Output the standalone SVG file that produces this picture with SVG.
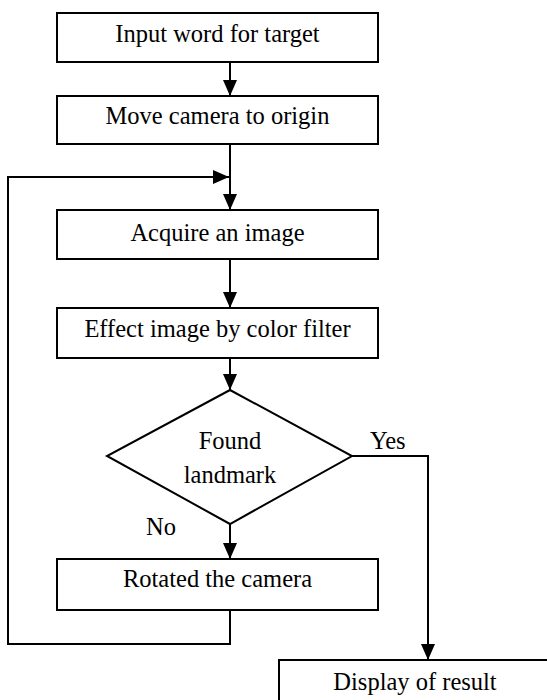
<svg xmlns="http://www.w3.org/2000/svg" width="547" height="700" viewBox="0 0 547 700">
<style>
.box{fill:#fff;stroke:#000;stroke-width:2}
.t{font-family:"Liberation Serif","Times New Roman",serif;font-size:24.5px;fill:#000}
.c{text-anchor:middle}
.ln{fill:none;stroke:#000;stroke-width:2}
</style>
<defs>
<marker id="ah" viewBox="0 0 16 14" refX="16" refY="7" markerWidth="16" markerHeight="14" markerUnits="userSpaceOnUse" orient="auto">
<path d="M0,0 L16,7 L0,14 z" fill="#000"/>
</marker>
</defs>
<rect width="547" height="700" fill="#fff"/>
<g id="connectors">
<path class="ln" d="M230,62 L230,96" marker-end="url(#ah)"/>
<path class="ln" d="M230,144 L230,210" marker-end="url(#ah)"/>
<path class="ln" d="M230,259 L230,308" marker-end="url(#ah)"/>
<path class="ln" d="M230,358 L230,390" marker-end="url(#ah)"/>
<path class="ln" d="M230,524 L230,559" marker-end="url(#ah)"/>
<path class="ln" d="M230,610 L230,644 L8,644 L8,177 L229,177" marker-end="url(#ah)"/>
<path class="ln" d="M352,456 L428,456 L428,660" marker-end="url(#ah)"/>
<text class="t" x="370" y="449">Yes</text>
<text class="t" x="146" y="535">No</text>
</g>
<g id="n1"><rect class="box" x="57" y="13" width="321" height="49"/><text class="t c" x="217.5" y="42">Input word for target</text></g>
<g id="n2"><rect class="box" x="57" y="96" width="321" height="48"/><text class="t c" x="217.5" y="124">Move camera to origin</text></g>
<g id="n3"><rect class="box" x="57" y="210" width="321" height="49"/><text class="t c" x="217.5" y="241">Acquire an image</text></g>
<g id="n4"><rect class="box" x="57" y="308" width="321" height="50"/><text class="t c" x="217.5" y="337">Effect image by color filter</text></g>
<g id="n5"><path class="box" d="M230,390 L352,456 L230,524 L107,456 z"/><text class="t c" x="230" y="449">Found</text><text class="t c" x="230" y="483">landmark</text></g>
<g id="n6"><rect class="box" x="57" y="559" width="321" height="51"/><text class="t c" x="217.5" y="587">Rotated the camera</text></g>
<g id="n7"><rect class="box" x="279" y="660" width="300" height="60"/><text class="t c" x="415" y="690">Display of result</text></g>
</svg>
